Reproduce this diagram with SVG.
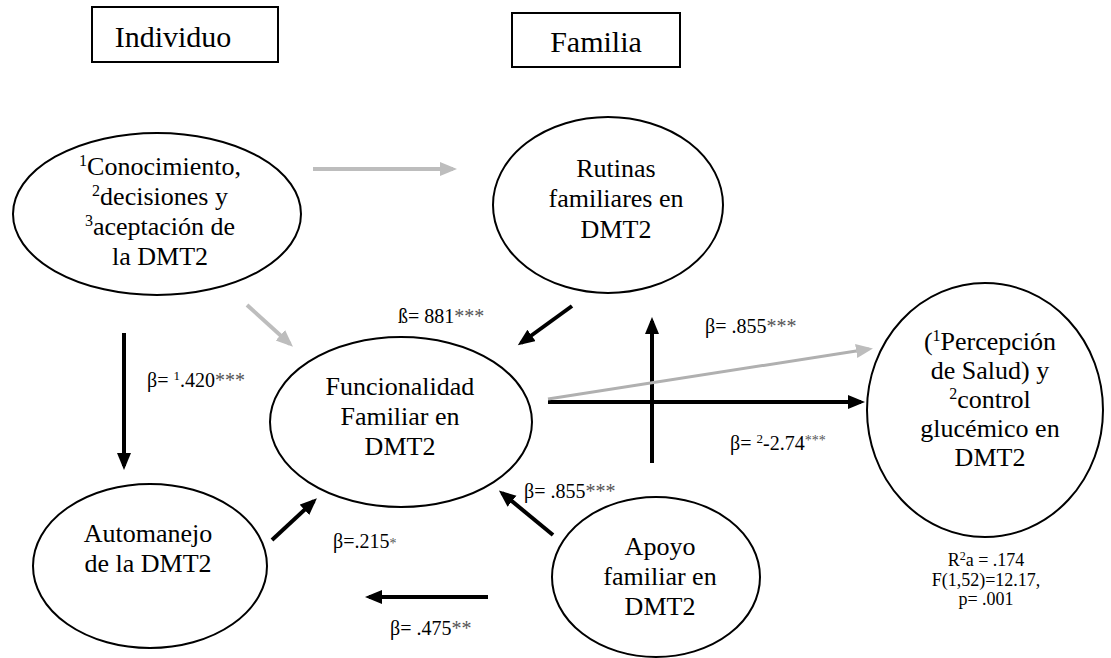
<svg xmlns="http://www.w3.org/2000/svg" width="1111" height="658" viewBox="0 0 1111 658">
  <style>
    .node ellipse { fill: #ffffff; stroke: #000000; stroke-width: 2; }
    .box { fill: #ffffff; stroke: #000000; stroke-width: 2; }
    text { fill: #000000; font-family: "Liberation Serif", "Times New Roman", serif; }
    .title { font-size: 30px; }
    .lbl { font-size: 26px; text-anchor: middle; }
    .coef { font-size: 20px; }
    .stat { font-size: 18px; text-anchor: middle; }
    .ast { fill: #555555; }
    .blk { stroke: #000000; stroke-width: 4; fill: none; marker-end: url(#headBlack); }
    .gry { stroke: #bdbdbd; stroke-width: 4; fill: none; marker-end: url(#headGray); }
    .gry-thin { stroke: #b0b0b0; stroke-width: 3; fill: none; marker-end: url(#headGray); }
  </style>
  <defs>
    <marker id="headBlack" markerUnits="userSpaceOnUse" markerWidth="18" markerHeight="16" refX="13" refY="7" orient="auto">
      <path d="M0,0 L17,7 L0,14 z" fill="#000000"/>
    </marker>
    <marker id="headGray" markerUnits="userSpaceOnUse" markerWidth="18" markerHeight="16" refX="13" refY="7" orient="auto">
      <path d="M0,0 L17,7 L0,14 z" fill="#bdbdbd"/>
    </marker>
  </defs>

  <!-- level headings -->
  <g id="level-individuo">
    <rect class="box" x="92" y="7" width="186" height="55"/>
    <text class="title" x="173" y="47" text-anchor="middle">Individuo</text>
  </g>
  <g id="level-familia">
    <rect class="box" x="512" y="13" width="168" height="54"/>
    <text class="title" x="596" y="52" text-anchor="middle">Familia</text>
  </g>

  <!-- connectors -->
  <g id="connectors">
    <path class="gry" d="M313,169 L453,169"/>
    <path class="gry" d="M247,305 L290,344"/>
    <path class="blk" d="M124,333 L124,466"/>
    <path class="blk" d="M572,306 L521,343"/>
    <path class="blk" d="M652,463 L652,321"/>
    <path class="blk" d="M548,402 L861,402"/>
    <path class="gry-thin" d="M548,399 L869,349"/>
    <path class="blk" d="M272,540 L314,501"/>
    <path class="blk" d="M553,535 L502,493"/>
    <path class="blk" d="M488,597 L369,597"/>
  </g>

  <!-- nodes -->
  <g id="node-conocimiento" class="node">
    <ellipse cx="157" cy="214" rx="144" ry="81"/>
    <text class="lbl" x="160" y="175"><tspan font-size="16" dy="-9">1</tspan><tspan dy="9">Conocimiento,</tspan></text>
    <text class="lbl" x="160" y="205"><tspan font-size="16" dy="-9">2</tspan><tspan dy="9">decisiones y</tspan></text>
    <text class="lbl" x="160" y="235"><tspan font-size="16" dy="-9">3</tspan><tspan dy="9">aceptación de</tspan></text>
    <text class="lbl" x="160" y="265">la DMT2</text>
  </g>

  <g id="node-rutinas" class="node">
    <ellipse cx="608" cy="205" rx="115" ry="88"/>
    <text class="lbl" x="616" y="177">Rutinas</text>
    <text class="lbl" x="616" y="207">familiares en</text>
    <text class="lbl" x="616" y="238">DMT2</text>
  </g>

  <g id="node-funcionalidad" class="node">
    <ellipse cx="401" cy="422" rx="131" ry="85"/>
    <text class="lbl" x="400" y="395">Funcionalidad</text>
    <text class="lbl" x="400" y="425">Familiar en</text>
    <text class="lbl" x="400" y="455">DMT2</text>
  </g>

  <g id="node-percepcion" class="node">
    <ellipse cx="985" cy="410" rx="118" ry="127"/>
    <text class="lbl" x="990" y="350">(<tspan font-size="16" dy="-9">1</tspan><tspan dy="9">Percepción</tspan></text>
    <text class="lbl" x="990" y="379">de Salud) y</text>
    <text class="lbl" x="990" y="408"><tspan font-size="16" dy="-9">2</tspan><tspan dy="9">control</tspan></text>
    <text class="lbl" x="990" y="437">glucémico en</text>
    <text class="lbl" x="990" y="466">DMT2</text>
  </g>

  <g id="node-automanejo" class="node">
    <ellipse cx="150" cy="566" rx="117" ry="82"/>
    <text class="lbl" x="148" y="542">Automanejo</text>
    <text class="lbl" x="148" y="572">de la DMT2</text>
  </g>

  <g id="node-apoyo" class="node">
    <ellipse cx="656" cy="577" rx="104" ry="80"/>
    <text class="lbl" x="660" y="555">Apoyo</text>
    <text class="lbl" x="660" y="585">familiar en</text>
    <text class="lbl" x="660" y="615">DMT2</text>
  </g>

  <!-- path coefficients -->
  <g id="coefficients">
    <text class="coef" x="398" y="323">ß= 881<tspan class="ast">***</tspan></text>
    <text class="coef" x="147" y="387">β= <tspan font-size="13" dy="-7">1</tspan><tspan dy="7">.420</tspan><tspan class="ast">***</tspan></text>
    <text class="coef" x="705" y="333">β= .855<tspan class="ast">***</tspan></text>
    <text class="coef" x="730" y="450">β= <tspan font-size="13" dy="-7">2</tspan><tspan dy="7">-2.74</tspan><tspan class="ast" font-size="14" dy="-5">***</tspan></text>
    <text class="coef" x="524" y="498">β= .855<tspan class="ast">***</tspan></text>
    <text class="coef" x="333" y="548">β=.215<tspan class="ast" font-size="14">*</tspan></text>
    <text class="coef" x="390" y="635">β= .475<tspan class="ast">**</tspan></text>
  </g>

  <!-- model fit -->
  <g id="model-fit">
    <text class="stat" x="986" y="566">R<tspan font-size="12" dy="-6">2</tspan><tspan dy="6">a = .174</tspan></text>
    <text class="stat" x="986" y="586">F(1,52)=12.17,</text>
    <text class="stat" x="986" y="605">p= .001</text>
  </g>
</svg>
